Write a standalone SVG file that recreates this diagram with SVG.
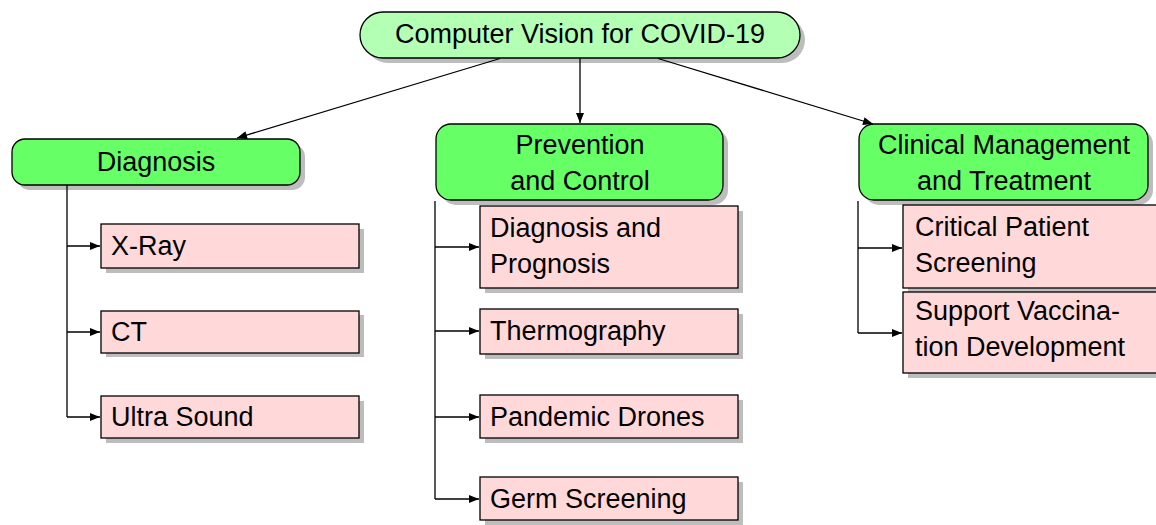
<svg xmlns="http://www.w3.org/2000/svg" width="1156" height="525" viewBox="0 0 1156 525">
<defs>
<style>
.t{font-family:"Liberation Sans",Arial,sans-serif;font-size:27px;fill:#000}
.c{text-anchor:middle}
.sh{fill:#bdbdbd;stroke:none}
.root{fill:#b3ffb3;stroke:#000;stroke-width:1.3}
.cat{fill:#66ff66;stroke:#000;stroke-width:1.3}
.leaf{fill:#ffd9d9;stroke:#000;stroke-width:1.3}
.ln{fill:none;stroke:#000;stroke-width:1.3}
</style>
<marker id="ah" viewBox="0 0 10 8" refX="10" refY="4" markerWidth="11" markerHeight="8" markerUnits="userSpaceOnUse" orient="auto">
<path d="M0,0 L10,4 L0,8 Z" fill="#000"/>
</marker>
</defs>
<rect width="1156" height="525" fill="#fff"/>

<g id="root">
<rect class="sh" x="365" y="17" width="440" height="46" rx="23"/>
<rect class="root" x="360" y="12" width="440" height="46" rx="23"/>
<text class="t c" x="580" y="43" font-size="28.5">Computer Vision for COVID-19</text>
</g>

<g id="diagnosis">
<rect class="sh" x="17" y="144" width="288" height="46" rx="13"/>
<rect class="cat" x="12" y="139" width="288" height="46" rx="13"/>
<text class="t c" x="156" y="171">Diagnosis</text>
</g>

<g id="prevention">
<rect class="sh" x="441" y="129" width="287" height="76" rx="15"/>
<rect class="cat" x="436" y="124" width="287" height="76" rx="15"/>
<text class="t c" x="580" y="154">Prevention</text>
<text class="t c" x="580" y="190">and Control</text>
</g>

<g id="clinical">
<rect class="sh" x="864" y="129" width="289" height="76" rx="15"/>
<rect class="cat" x="859" y="124" width="289" height="76" rx="15"/>
<text class="t c" x="1004" y="154">Clinical Management</text>
<text class="t c" x="1004" y="190">and Treatment</text>
</g>

<g id="xray">
<rect class="sh" x="106" y="229" width="258" height="44"/>
<rect class="leaf" x="101" y="224" width="258" height="44"/>
<text class="t" x="111" y="255">X-Ray</text>
</g>
<g id="ct">
<rect class="sh" x="106" y="315" width="258" height="42"/>
<rect class="leaf" x="101" y="311" width="258" height="42"/>
<text class="t" x="111" y="341">CT</text>
</g>
<g id="ultrasound">
<rect class="sh" x="106" y="401" width="258" height="42"/>
<rect class="leaf" x="101" y="396" width="258" height="42"/>
<text class="t" x="111" y="426">Ultra Sound</text>
</g>

<g id="diagprog">
<rect class="sh" x="485" y="211" width="258" height="82"/>
<rect class="leaf" x="480" y="206" width="258" height="82"/>
<text class="t" x="490" y="237">Diagnosis and</text>
<text class="t" x="490" y="273">Prognosis</text>
</g>
<g id="thermography">
<rect class="sh" x="485" y="314" width="258" height="45"/>
<rect class="leaf" x="480" y="309" width="258" height="45"/>
<text class="t" x="490" y="340">Thermography</text>
</g>
<g id="drones">
<rect class="sh" x="485" y="400" width="258" height="43"/>
<rect class="leaf" x="480" y="395" width="258" height="43"/>
<text class="t" x="490" y="426">Pandemic Drones</text>
</g>
<g id="germ">
<rect class="sh" x="485" y="482" width="258" height="43"/>
<rect class="leaf" x="480" y="477" width="258" height="43"/>
<text class="t" x="490" y="508">Germ Screening</text>
</g>

<g id="critical">
<rect class="sh" x="908" y="210" width="258" height="83"/>
<rect class="leaf" x="903" y="205" width="258" height="83"/>
<text class="t" x="915" y="236">Critical Patient</text>
<text class="t" x="915" y="272">Screening</text>
</g>
<g id="vaccination">
<rect class="sh" x="908" y="297" width="258" height="81"/>
<rect class="leaf" x="903" y="292" width="258" height="81"/>
<text class="t" x="915" y="320">Support Vaccina-</text>
<text class="t" x="915" y="356">tion Development</text>
</g>

<g id="connectors">
<line class="ln" x1="500" y1="58.5" x2="237" y2="138" marker-end="url(#ah)"/>
<line class="ln" x1="580" y1="58.5" x2="580" y2="123" marker-end="url(#ah)"/>
<line class="ln" x1="658" y1="58.5" x2="873" y2="124" marker-end="url(#ah)"/>
<path class="ln" d="M67,185 V417"/>
<line class="ln" x1="67" y1="246" x2="100" y2="246" marker-end="url(#ah)"/>
<line class="ln" x1="67" y1="332" x2="100" y2="332" marker-end="url(#ah)"/>
<line class="ln" x1="67" y1="417" x2="100" y2="417" marker-end="url(#ah)"/>
<path class="ln" d="M435,201 V499"/>
<line class="ln" x1="435" y1="247" x2="479" y2="247" marker-end="url(#ah)"/>
<line class="ln" x1="435" y1="331" x2="479" y2="331" marker-end="url(#ah)"/>
<line class="ln" x1="435" y1="417" x2="479" y2="417" marker-end="url(#ah)"/>
<line class="ln" x1="435" y1="499" x2="479" y2="499" marker-end="url(#ah)"/>
<path class="ln" d="M858,201 V333"/>
<line class="ln" x1="858" y1="248" x2="902" y2="248" marker-end="url(#ah)"/>
<line class="ln" x1="858" y1="333" x2="902" y2="333" marker-end="url(#ah)"/>
</g>
</svg>
